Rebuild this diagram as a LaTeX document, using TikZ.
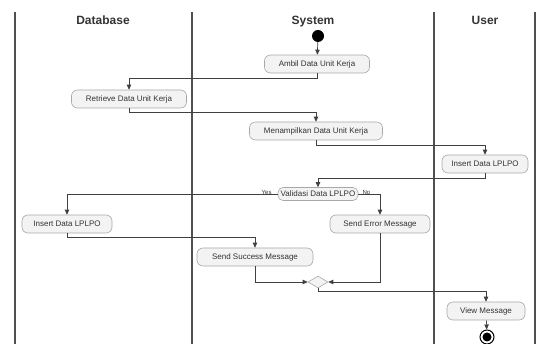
\documentclass[tikz,border=0pt]{standalone}
\usepackage{fontspec}
\setmainfont{Liberation Sans}
\usetikzlibrary{arrows.meta,shapes.geometric}
\definecolor{boxfill}{HTML}{F3F3F3}
\definecolor{boxborder}{HTML}{A8A8A8}
\definecolor{linec}{HTML}{404040}
\definecolor{lanec}{HTML}{505050}
\definecolor{txt}{HTML}{333333}
\begin{document}
\begin{tikzpicture}[x=1pt,y=-1pt,
  act/.style={draw=boxborder, fill=boxfill, rounded corners=6pt, minimum height=18pt,
    inner sep=0pt, font=\fontsize{8}{9}\selectfont, text=txt, line width=0.6pt},
  dec/.style={act, minimum height=13pt, rounded corners=5pt},
  mergenode/.style={diamond, draw=boxborder, fill=boxfill, minimum width=20pt, minimum height=12pt,
    inner sep=0pt, line width=0.6pt},
  flow/.style={draw=linec, line width=0.7pt, -{Triangle[length=5pt,width=4.5pt]}},
  lane/.style={draw=lanec, line width=1.4pt},
  hdr/.style={font=\bfseries\fontsize{12}{14}\selectfont, text=txt, text height=9pt, text depth=2.5pt},
  lbl/.style={font=\fontsize{6}{7}\selectfont, text=txt, inner sep=0pt}
]
\useasboundingbox (0,0) rectangle (538,344);
% lanes
\draw[lane] (15,12) -- (15,344);
\draw[lane] (192,12) -- (192,344);
\draw[lane] (434,12) -- (434,344);
\draw[lane] (535,12) -- (535,344);
\node[hdr] (h1) at (103,21) {Database};
\node[hdr] (h2) at (313,21) {System};
\node[hdr] (h3) at (485,21) {User};
% nodes
\node[circle, fill=black, minimum size=12pt, inner sep=0pt] (start) at (318,36) {};
\node[act, minimum width=105pt] (ambil) at (317,64) {Ambil Data Unit Kerja};
\node[act, minimum width=115pt] (retr) at (129,99) {Retrieve Data Unit Kerja};
\node[act, minimum width=133pt] (men) at (316,131) {Menampilkan Data Unit Kerja};
\node[act, minimum width=86pt] (insu) at (485,164) {Insert Data LPLPO};
\node[dec, minimum width=80pt] (val) at (318,194) {Validasi Data LPLPO};
\node[act, minimum width=90pt] (insd) at (67,224) {Insert Data LPLPO};
\node[act, minimum width=100pt] (err) at (380,224) {Send Error Message};
\node[act, minimum width=116pt] (succ) at (255,257) {Send Success Message};
\node[mergenode] (mrg) at (318,282) {};
\node[act, minimum width=78pt] (view) at (486,311) {View Message};
\node[circle, draw=black, line width=1pt, minimum size=14pt, inner sep=0pt] (end) at (487,337) {};
\fill[black] (end.center) circle (4.5pt);
% flows
\draw[flow] (start) -- (ambil);
\draw[flow] (ambil.south) -- ++(0,5) -| (retr.north);
\draw[flow] (retr.south) -- ++(0,4) -| (men.north);
\draw[flow] (men.south) -- ++(0,5) -| (insu.north);
\draw[flow] (insu.south) -- ++(0,5) -| (val.north);
\draw[flow] (val.west) -| (insd.north);
\draw[flow] (val.east) -| (err.north);
\node[lbl, anchor=south east] (yes) at ([xshift=-6pt,yshift=-1pt]val.west) {Yes};
\node[lbl, anchor=south west] (no) at ([xshift=4pt,yshift=-1pt]val.east) {No};
\draw[flow] (insd.south) -- ++(0,4) -| (succ.north);
\draw[flow] (succ.south) |- (mrg.west);
\draw[flow] (err.south) |- (mrg.east);
\draw[flow] (mrg.south) -- ++(0,3) -| (view.north);
\draw[flow] (view) -- (end);
\end{tikzpicture}
\end{document}
